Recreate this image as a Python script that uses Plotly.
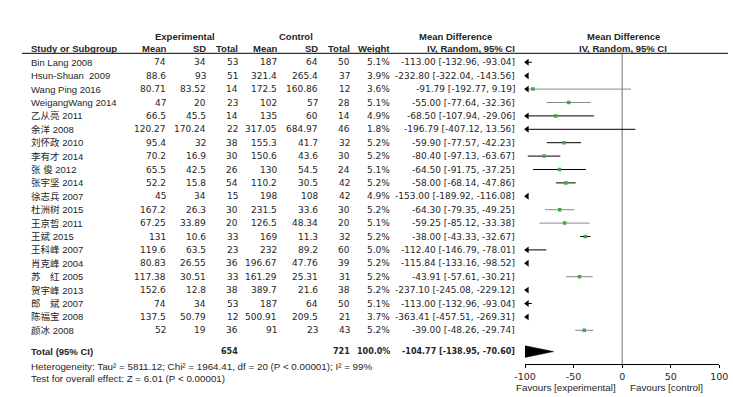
import plotly.graph_objects as go

# ---------------- data ----------------
studies = ["Bin Lang 2008", "Hsun-Shuan  2009", "Wang Ping 2016", "WeigangWang 2014",
           "乙从亮 2011", "余洋 2008", "刘怀政 2010", "李有才 2014", "张 俊 2012",
           "张宇坚 2014", "徐志兵 2007", "杜洲树 2015", "王京哲 2011", "王斌 2015",
           "王科峰 2007", "肖克峰 2004", "苏　红 2005", "贺宇峰 2013", "郎　斌 2007",
           "陈福宝 2008", "颜冰 2008"]
exp_mean = [74, 88.6, 80.71, 47, 66.5, 120.27, 95.4, 70.2, 65.5, 52.2, 45, 167.2, 67.25,
            131, 119.6, 80.83, 117.38, 152.6, 74, 137.5, 52]
exp_sd = [34, 93, 83.52, 20, 45.5, 170.24, 32, 16.9, 42.5, 15.8, 34, 26.3, 33.89, 10.6,
          63.5, 26.55, 30.51, 12.8, 34, 50.79, 19]
exp_n = [53, 51, 14, 23, 14, 22, 38, 30, 26, 54, 15, 30, 20, 33, 23, 36, 33, 38, 53, 12, 36]
ctl_mean = [187, 321.4, 172.5, 102, 135, 317.05, 155.3, 150.6, 130, 110.2, 198, 231.5,
            126.5, 169, 232, 196.67, 161.29, 389.7, 187, 500.91, 91]
ctl_sd = [64, 265.4, 160.86, 57, 60, 684.97, 41.7, 43.6, 54.5, 30.5, 108, 33.6, 48.34,
          11.3, 89.2, 47.76, 25.31, 21.6, 64, 209.5, 23]
ctl_n = [50, 37, 12, 28, 14, 46, 32, 30, 24, 42, 42, 30, 20, 32, 60, 39, 31, 38, 50, 21, 43]
weight = [5.1, 3.9, 3.6, 5.1, 4.9, 1.8, 5.2, 5.2, 5.1, 5.2, 4.9, 5.2, 5.1, 5.2, 5.0, 5.2,
          5.2, 5.2, 5.1, 3.7, 5.2]
md = [-113.00, -232.80, -91.79, -55.00, -68.50, -196.79, -59.90, -80.40, -64.50, -58.00,
      -153.00, -64.30, -59.25, -38.00, -112.40, -115.84, -43.91, -237.10, -113.00,
      -363.41, -39.00]
ci_lo = [-132.96, -322.04, -192.77, -77.64, -107.94, -407.12, -77.57, -97.13, -91.75,
         -68.14, -189.92, -79.35, -85.12, -43.33, -146.79, -133.16, -57.61, -245.08,
         -132.96, -457.51, -48.26]
ci_hi = [-93.04, -143.56, 9.19, -32.36, -29.06, 13.56, -42.23, -63.67, -37.25, -47.86,
         -116.08, -49.25, -33.38, -32.67, -78.01, -98.52, -30.21, -229.12, -93.04,
         -269.31, -29.74]
total_exp_n = 654
total_ctl_n = 721
total_weight = 100.0
pooled_md = -104.77
pooled_lo = -138.95
pooled_hi = -70.60
heterogeneity_text = "Heterogeneity: Tau² = 5811.12; Chi² = 1964.41, df = 20 (P < 0.00001); I² = 99%"
overall_text = "Test for overall effect: Z = 6.01 (P < 0.00001)"
x_ticks = [-100, -50, 0, 50, 100]
x_tick_labels = ["-100", "-50", "0", "50", "100"]

# ---------------- style / layout ----------------
W, H = 733, 397
SANS = "Arial, 'Liberation Sans', 'Noto Sans CJK SC', sans-serif"
NUM = "'DejaVu Sans', 'Noto Sans CJK SC', sans-serif"
TXT = "#262626"
ROW0, STEP = 62.3, 13.4
TOTAL_Y = 351.6
XMIN, XMAX = -100, 100
line_grey = [False, False, True, True, False, False, False, False, False, False, False,
             True, True, False, False, False, True, False, False, False, True]

row_y = [ROW0 + STEP * i for i in range(len(studies))]

fig = go.Figure()

# zero line
fig.add_trace(go.Scatter(x=[0, 0], y=[53.3, 364.3], mode="lines",
                         line=dict(color="#707070", width=1), hoverinfo="skip"))

# CI lines
for grey in (True, False):
    xs, ys = [], []
    for i in range(len(studies)):
        if line_grey[i] != grey:
            continue
        lo, hi = max(ci_lo[i], XMIN), min(ci_hi[i], XMAX)
        if hi > lo:
            xs += [lo, hi, None]
            ys += [row_y[i], row_y[i], None]
    fig.add_trace(go.Scatter(x=xs, y=ys, mode="lines",
                             line=dict(color="#888888" if grey else "#000000", width=1),
                             hoverinfo="skip"))

# arrows at the left edge
ax, ay = [], []
for i in range(len(studies)):
    if ci_lo[i] < XMIN:
        ax.append(XMIN + 2.2)
        ay.append(row_y[i])
fig.add_trace(go.Scatter(x=ax, y=ay, mode="markers", cliponaxis=False,
                         marker=dict(symbol="triangle-left", size=6, color="#000000",
                                     line=dict(width=0)), hoverinfo="skip"))

# point estimates
px_, py_ = [], []
for i in range(len(studies)):
    if XMIN <= md[i] <= XMAX:
        px_.append(md[i])
        py_.append(row_y[i])
fig.add_trace(go.Scatter(x=px_, y=py_, mode="markers",
                         marker=dict(symbol="square", size=3.5, color="#42a642",
                                     line=dict(width=0)), hoverinfo="skip"))

# pooled diamond
hh = 6.8
fig.add_trace(go.Scatter(x=[pooled_lo, pooled_md, pooled_hi, pooled_md, pooled_lo],
                         y=[TOTAL_Y, TOTAL_Y - hh, TOTAL_Y, TOTAL_Y + hh, TOTAL_Y],
                         mode="lines", fill="toself", fillcolor="#000000",
                         line=dict(color="#000000", width=0.5), hoverinfo="skip"))

ann = []


def txt(x, y, s, anchor="left", bold=False, size=9.5, family=SANS):
    ann.append(dict(x=x / W, xref="paper", y=y, yref="y", text=f"<b>{s}</b>" if bold else s,
                    showarrow=False, xanchor=anchor, yanchor="middle",
                    font=dict(family=family, size=size, color=TXT)))


def num(x, y, s, bold=False):
    txt(x, y, s, "right", bold, 8 if bold else 9, NUM)


# headers
txt(185, 36, "Experimental", "center", True)
txt(296, 36, "Control", "center", True)
txt(455, 36, "Mean Difference", "center", True)
txt(623, 36, "Mean Difference", "center", True)
HY = 48.5
txt(29, HY, "Study or Subgroup", "left", True)
txt(168, HY, "Mean", "right", True)
txt(208, HY, "SD", "right", True)
txt(239.5, HY, "Total", "right", True)
txt(279, HY, "Mean", "right", True)
txt(320, HY, "SD", "right", True)
txt(351.5, HY, "Total", "right", True)
txt(392.5, HY, "Weight", "right", True)
txt(517, HY, "IV, Random, 95% CI", "right", True)
txt(623, HY, "IV, Random, 95% CI", "center", True)

# rows
for i, s in enumerate(studies):
    y = row_y[i]
    txt(29, y, s)
    num(168, y, str(exp_mean[i]))
    num(208, y, str(exp_sd[i]))
    num(239.5, y, str(exp_n[i]))
    num(279, y, str(ctl_mean[i]))
    num(320, y, str(ctl_sd[i]))
    num(351.5, y, str(ctl_n[i]))
    num(392.5, y, f"{weight[i]:.1f}%")
    num(517, y, f"{md[i]:.2f} [{ci_lo[i]:.2f}, {ci_hi[i]:.2f}]")

# total
txt(29, TOTAL_Y, "Total (95% CI)", "left", True)
num(239.5, TOTAL_Y, str(total_exp_n), True)
num(351.5, TOTAL_Y, str(total_ctl_n), True)
num(392.5, TOTAL_Y, f"{total_weight:.1f}%", True)
num(517, TOTAL_Y, f"{pooled_md:.2f} [{pooled_lo:.2f}, {pooled_hi:.2f}]", True)
txt(29, 366.7, heterogeneity_text, size=9.8)
txt(29, 378.3, overall_text, size=9.8)

# favours
txt(618, 387.5, "Favours [experimental]", "right", size=9.8)
txt(628, 387.5, "Favours [control]", "left", size=9.8)

fig.update_layout(
    width=W, height=H, margin=dict(l=0, r=0, t=0, b=0, autoexpand=False),
    paper_bgcolor="white", plot_bgcolor="white", showlegend=False, hovermode=False,
    annotations=ann,
    shapes=[dict(type="line", xref="paper", yref="y", x0=22 / W, x1=728 / W,
                 y0=53.3, y1=53.3, line=dict(color="#000000", width=1))],
    xaxis=dict(domain=[525 / W, 719.3 / W], range=[XMIN, XMAX], anchor="free",
               position=(H - 364.3) / H, showgrid=False, zeroline=False,
               showline=True, linecolor="#000000", linewidth=1,
               ticks="outside", ticklen=3, tickcolor="#000000",
               tickvals=x_ticks, ticktext=x_tick_labels, automargin=False,
               tickfont=dict(family=NUM, size=9.5, color=TXT)),
    yaxis=dict(domain=[0, 1], range=[H, 0], visible=False, showgrid=False, zeroline=False),
)

fig.write_html("out.html", config={"displayModeBar": False},
               post_script="document.body.style.margin='0';document.body.style.overflow='hidden';")
